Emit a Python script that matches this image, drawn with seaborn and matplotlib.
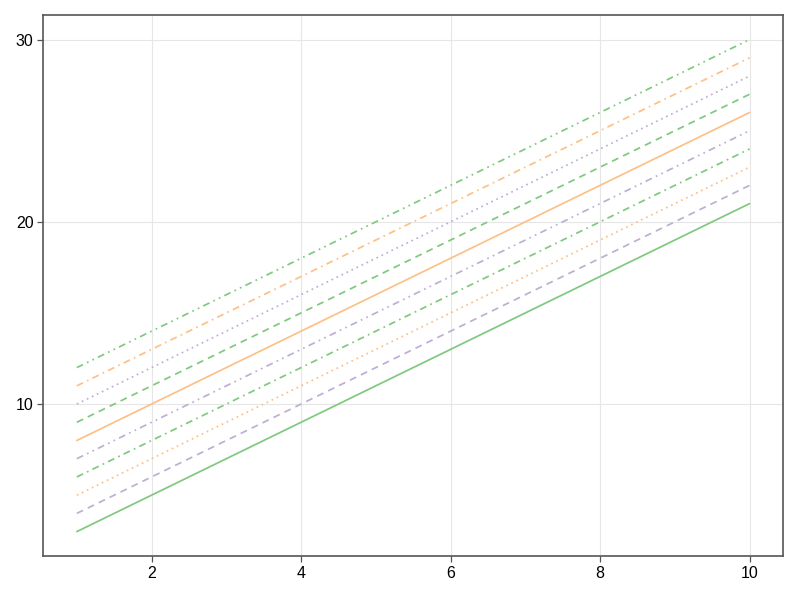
import matplotlib
matplotlib.use("Agg")
import matplotlib.pyplot as plt
import seaborn as sns
import pandas as pd

x = [1, 2, 3, 4, 5, 6, 7, 8, 9, 10]
series = {
    "s1": [3, 5, 7, 9, 11, 13, 15, 17, 19, 21],
    "s2": [4, 6, 8, 10, 12, 14, 16, 18, 20, 22],
    "s3": [5, 7, 9, 11, 13, 15, 17, 19, 21, 23],
    "s4": [6, 8, 10, 12, 14, 16, 18, 20, 22, 24],
    "s5": [7, 9, 11, 13, 15, 17, 19, 21, 23, 25],
    "s6": [8, 10, 12, 14, 16, 18, 20, 22, 24, 26],
    "s7": [9, 11, 13, 15, 17, 19, 21, 23, 25, 27],
    "s8": [10, 12, 14, 16, 18, 20, 22, 24, 26, 28],
    "s9": [11, 13, 15, 17, 19, 21, 23, 25, 27, 29],
    "s10": [12, 14, 16, 18, 20, 22, 24, 26, 28, 30],
}

colors = ["#7fc97f", "#beaed4", "#fdc086"]
dashes = [
    "",
    (4, 3),
    (1, 2.2),
    (4, 2.5, 1, 2.5),
    (4, 2.5, 1, 2.5, 1, 2.5),
]

sns.set_style("white")
plt.rcParams["font.family"] = ["Liberation Sans", "DejaVu Sans"]

fig, ax = plt.subplots(figsize=(8, 6), dpi=100)
fig.subplots_adjust(left=0.054, right=0.979, top=0.975, bottom=0.073)

df = pd.DataFrame(series)
df["x"] = x
long = df.melt(id_vars="x", var_name="series", value_name="y")
names = list(series.keys())

sns.lineplot(
    data=long,
    x="x",
    y="y",
    hue="series",
    style="series",
    palette={n: colors[i % 3] for i, n in enumerate(names)},
    dashes={n: dashes[i % 5] for i, n in enumerate(names)},
    linewidth=1.25,
    legend=False,
    ax=ax,
)

ax.margins(0.05)
ax.set_xticks([2, 4, 6, 8, 10])
ax.set_yticks([10, 20, 30])
ax.set_xlabel("")
ax.set_ylabel("")
ax.grid(True, color="#e6e6e6", linewidth=0.8)
ax.set_axisbelow(True)
for s in ax.spines.values():
    s.set_color("#555555")
    s.set_linewidth(1.2)
ax.tick_params(axis="both", direction="out", length=4, width=0.9, color="#555555",
               labelsize=11.5, labelcolor="black", pad=3, bottom=True, left=True)

plt.savefig("out.png", dpi=100)
